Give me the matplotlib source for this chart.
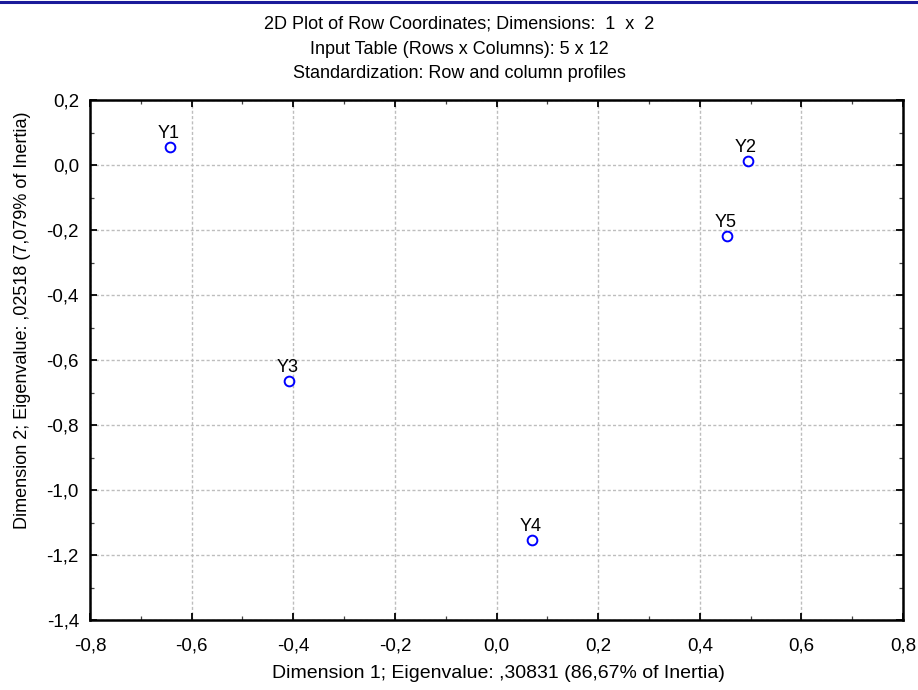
import matplotlib
matplotlib.use("Agg")
import matplotlib.pyplot as plt
from matplotlib.ticker import MultipleLocator, FuncFormatter

# Row coordinates on the first two dimensions
labels = ["Y1", "Y2", "Y3", "Y4", "Y5"]
dim1 = [-0.642, 0.494, -0.408, 0.069, 0.453]
dim2 = [0.056, 0.013, -0.664, -1.154, -0.218]

title_lines = [
    "2D Plot of Row Coordinates; Dimensions:  1  x  2",
    "Input Table (Rows x Columns): 5 x 12",
    "Standardization: Row and column profiles",
]
xlabel = "Dimension 1; Eigenvalue: ,30831 (86,67% of Inertia)"
ylabel = "Dimension 2; Eigenvalue: ,02518 (7,079% of Inertia)"

plt.rcParams["font.family"] = ["Liberation Sans", "DejaVu Sans"]

W, H = 918, 690
fig = plt.figure(figsize=(W / 100, H / 100), dpi=100)
ax = fig.add_axes([90 / W, 70 / H, 813 / W, 520 / H])

ax.plot(dim1, dim2, linestyle="none", marker="o", markersize=7,
        markerfacecolor="none", markeredgecolor="#0000ff", markeredgewidth=1.4)
for lab, x, y in zip(labels, dim1, dim2):
    ax.annotate(lab, (x, y), xytext=(-1, 3.6), textcoords="offset points",
                ha="center", va="bottom", fontsize=13)

ax.set_xlim(-0.8, 0.8)
ax.set_ylim(-1.4, 0.2)
ax.xaxis.set_major_locator(MultipleLocator(0.2))
ax.yaxis.set_major_locator(MultipleLocator(0.2))
ax.xaxis.set_minor_locator(MultipleLocator(0.1))
ax.yaxis.set_minor_locator(MultipleLocator(0.1))
comma = FuncFormatter(lambda v, p: f"{v:.1f}".replace(".", ",").replace("-0,0", "0,0"))
ax.xaxis.set_major_formatter(comma)
ax.yaxis.set_major_formatter(comma)
ax.tick_params(which="both", direction="in", top=True, right=True, width=1.3)
ax.tick_params(which="major", length=5, labelsize=13.5)
ax.tick_params(axis="x", which="major", pad=12.5)
ax.tick_params(axis="y", which="major", pad=8)
ax.tick_params(which="minor", length=3, width=0.9, color="#444444")
for s in ax.spines.values():
    s.set_linewidth(1.8)

ax.grid(True, which="major", linestyle=(0, (2.2, 1.6)), color="#bdbdbd", linewidth=1)
ax.set_axisbelow(True)

# axis titles placed in figure pixels
fig.text(498 / W, 1 - 673 / H, xlabel, ha="center", va="center", fontsize=14)
fig.text(23 / W, 1 - 320 / H, ylabel, ha="center", va="center",
         rotation=90, fontsize=13)

for i, line in enumerate(title_lines):
    fig.text(0.5, 1 - (24 + 25 * i) / H, line, ha="center", va="center", fontsize=13)

# blue rule across the top edge
fig.add_artist(plt.Line2D([0, 1], [1 - 1.5 / H, 1 - 1.5 / H],
                          transform=fig.transFigure, color="#1a1a9a", linewidth=2.2))

fig.savefig("out.png", dpi=100)
